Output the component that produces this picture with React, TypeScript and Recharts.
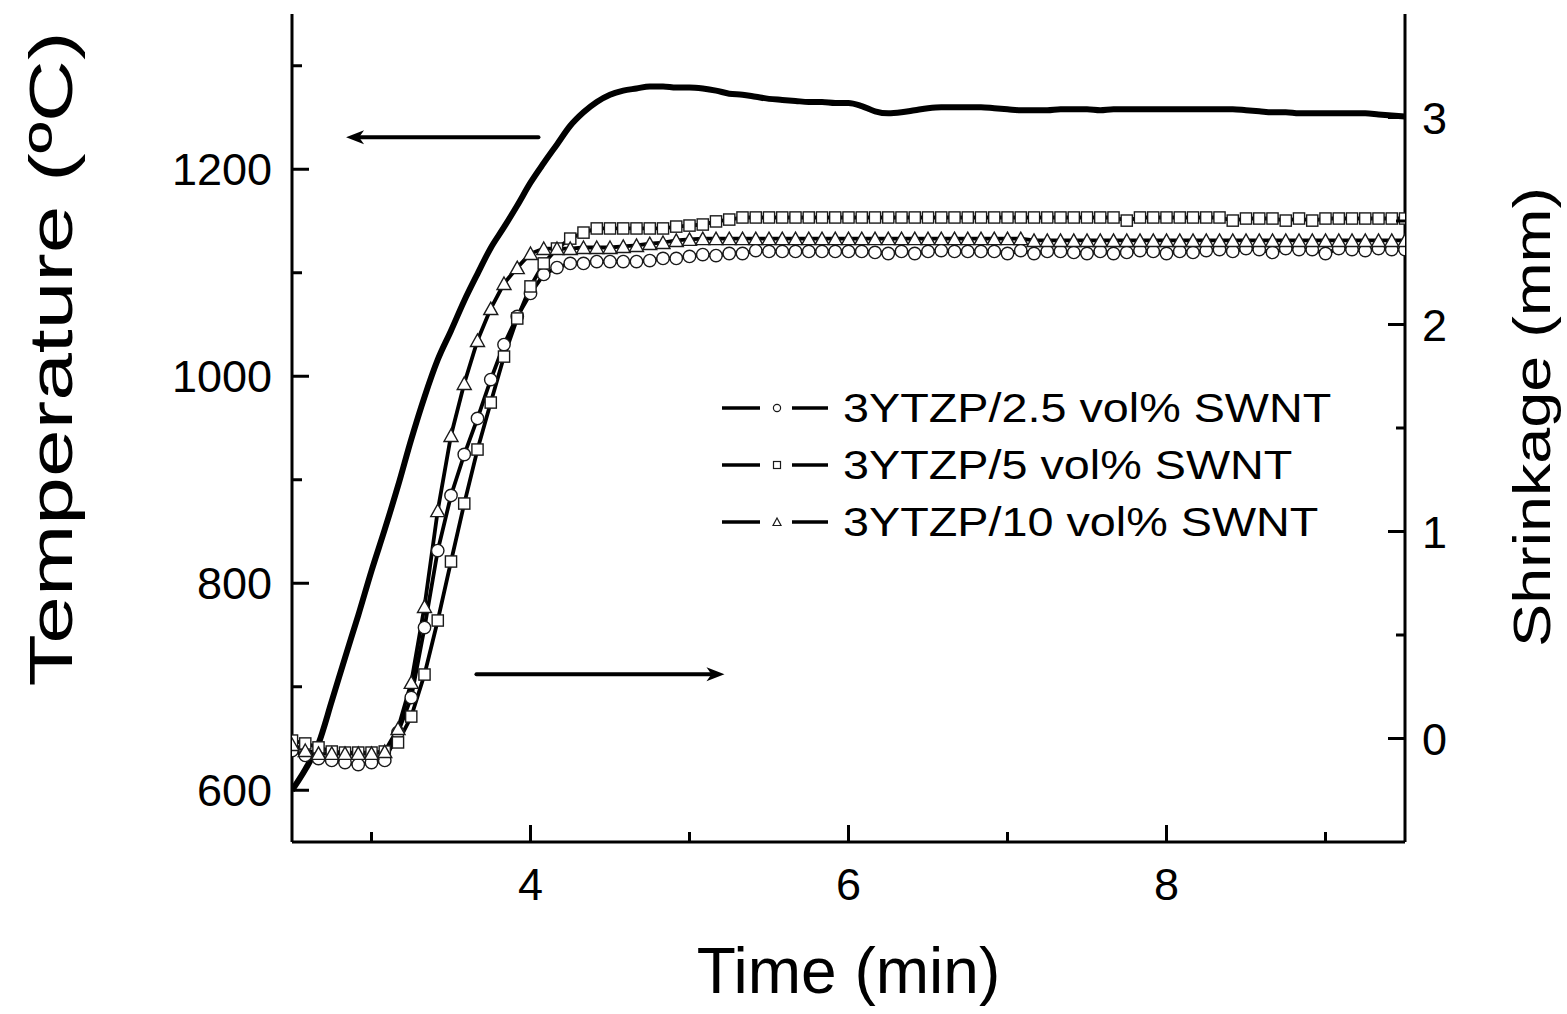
import React from "react"
import { ComposedChart, Line, XAxis, YAxis, Legend, ReferenceLine } from "recharts"

// sampling every 5 s, from 2.5 min to 9.5 min
const timeSec = [
  150, 155, 160, 165, 170, 175, 180, 185, 190, 195, 200, 205, 210, 215, 220, 225, 230, 235, 240, 245,
  250, 255, 260, 265, 270, 275, 280, 285, 290, 295, 300, 305, 310, 315, 320, 325, 330, 335, 340, 345,
  350, 355, 360, 365, 370, 375, 380, 385, 390, 395, 400, 405, 410, 415, 420, 425, 430, 435, 440, 445,
  450, 455, 460, 465, 470, 475, 480, 485, 490, 495, 500, 505, 510, 515, 520, 525, 530, 535, 540, 545,
  550, 555, 560, 565, 570,
]

// temperature, ºC (left axis)
const temperature = [
  600, 620, 645, 686, 728, 769, 812, 852, 894, 939, 980, 1016, 1044, 1073, 1099, 1124, 1144, 1165, 1187, 1206,
  1224, 1242, 1255, 1265, 1272, 1276, 1278, 1280, 1280, 1279, 1279, 1278, 1276, 1273, 1272, 1270, 1268, 1267, 1266, 1265,
  1265, 1264, 1264, 1261, 1256, 1254, 1255, 1257, 1259, 1260, 1260, 1260, 1260, 1259, 1258, 1257, 1257, 1257, 1258, 1258,
  1258, 1257, 1258, 1258, 1258, 1258, 1258, 1258, 1258, 1258, 1258, 1258, 1257, 1256, 1255, 1255, 1254, 1254, 1254, 1254,
  1254, 1254, 1253, 1252, 1251,
]

// shrinkage, mm (right axis)
const swnt25 = [
  -0.058, -0.082, -0.097, -0.106, -0.116, -0.126, -0.116, -0.106, 0.029, 0.198, 0.536, 0.908, 1.174, 1.372, 1.546, 1.734, 1.903, 2.039, 2.15, 2.242,
  2.275, 2.295, 2.295, 2.304, 2.304, 2.304, 2.304, 2.309, 2.319, 2.319, 2.329, 2.338, 2.333, 2.343, 2.343, 2.357, 2.353, 2.353, 2.353, 2.353,
  2.353, 2.353, 2.353, 2.353, 2.348, 2.343, 2.353, 2.343, 2.353, 2.357, 2.353, 2.353, 2.353, 2.353, 2.343, 2.357, 2.343, 2.353, 2.353, 2.348,
  2.343, 2.353, 2.343, 2.348, 2.357, 2.353, 2.343, 2.353, 2.348, 2.357, 2.362, 2.353, 2.367, 2.362, 2.348, 2.367, 2.362, 2.362, 2.343, 2.367,
  2.362, 2.357, 2.367, 2.362, 2.362,
]

const swnt5 = [
  -0.01, -0.024, -0.043, -0.063, -0.068, -0.068, -0.068, -0.063, -0.019, 0.106, 0.309, 0.57, 0.855, 1.135, 1.396, 1.623, 1.845, 2.029, 2.184, 2.295,
  2.367, 2.415, 2.444, 2.464, 2.464, 2.464, 2.464, 2.464, 2.464, 2.473, 2.478, 2.483, 2.498, 2.507, 2.517, 2.517, 2.517, 2.517, 2.517, 2.517,
  2.517, 2.517, 2.517, 2.517, 2.517, 2.517, 2.517, 2.517, 2.517, 2.517, 2.517, 2.517, 2.517, 2.517, 2.517, 2.517, 2.517, 2.517, 2.517, 2.517,
  2.517, 2.517, 2.517, 2.502, 2.517, 2.517, 2.517, 2.517, 2.517, 2.517, 2.517, 2.502, 2.512, 2.512, 2.512, 2.502, 2.512, 2.502, 2.512, 2.512,
  2.512, 2.512, 2.512, 2.512, 2.512,
]

const swnt10 = [
  -0.029, -0.058, -0.072, -0.072, -0.072, -0.072, -0.072, -0.063, 0.048, 0.271, 0.638, 1.101, 1.464, 1.715, 1.923, 2.077, 2.198, 2.275, 2.343, 2.367,
  2.367, 2.367, 2.372, 2.372, 2.372, 2.377, 2.382, 2.391, 2.396, 2.406, 2.411, 2.415, 2.415, 2.415, 2.415, 2.415, 2.415, 2.415, 2.415, 2.415,
  2.415, 2.415, 2.415, 2.415, 2.415, 2.415, 2.415, 2.415, 2.415, 2.415, 2.415, 2.415, 2.415, 2.415, 2.415, 2.415, 2.406, 2.406, 2.406, 2.406,
  2.406, 2.406, 2.406, 2.406, 2.406, 2.406, 2.406, 2.406, 2.406, 2.406, 2.406, 2.406, 2.406, 2.406, 2.406, 2.406, 2.406, 2.406, 2.406, 2.406,
  2.406, 2.406, 2.406, 2.406, 2.406,
]

const seriesNames = ["3YTZP/2.5 vol% SWNT", "3YTZP/5 vol% SWNT", "3YTZP/10 vol% SWNT"]

const leftTicks = [600, 700, 800, 900, 1000, 1100, 1200, 1300]
const leftLabels = [600, 800, 1000, 1200]
const rightTicks = [0, 0.5, 1, 1.5, 2, 2.5, 3]
const rightLabels = [0, 1, 2, 3]
const timeTicks = [3, 4, 5, 6, 7, 8, 9]
const timeLabels = [4, 6, 8]

// arrows: [start min, end min, temperature level]
const arrowToTemp = [4.05, 2.84, 1231]
const arrowToShrink = [3.66, 5.22, 712]

const data = timeSec.map((s, i) => ({
  t: s / 60,
  temp: temperature[i],
  a: swnt25[i],
  b: swnt5[i],
  c: swnt10[i],
}))

const FONT = "'Liberation Sans', Arial, sans-serif"
const INK = "#000"

const CircleDot = (p: any) =>
  p.cx == null ? <g key={p.index} /> : (
    <circle key={p.index} cx={p.cx} cy={p.cy} r={6.2} fill="#fff" stroke="#1a1a1a" strokeWidth={1.4} />
  )

const SquareDot = (p: any) =>
  p.cx == null ? <g key={p.index} /> : (
    <rect key={p.index} x={p.cx - 5.6} y={p.cy - 5.6} width={11.2} height={11.2} fill="#fff" stroke="#1a1a1a" strokeWidth={1.4} />
  )

const TriangleDot = (p: any) =>
  p.cx == null ? <g key={p.index} /> : (
    <polygon
      key={p.index}
      points={`${p.cx},${p.cy - 6.5} ${p.cx + 7},${p.cy + 6} ${p.cx - 7},${p.cy + 6}`}
      fill="#fff"
      stroke="#1a1a1a"
      strokeWidth={1.4}
    />
  )

const LeftTick = ({ x, y, payload }: any) => {
  const major = leftLabels.includes(payload.value)
  return (
    <g>
      <line x1={x} x2={x + (major ? 17 : 10)} y1={y} y2={y} stroke={INK} strokeWidth={3} />
      {major && (
        <text x={x - 20} y={y} dy="0.36em" textAnchor="end" fontSize={45} fontFamily={FONT} fill={INK}>
          {payload.value}
        </text>
      )}
    </g>
  )
}

const RightTick = ({ x, y, payload }: any) => {
  const major = rightLabels.includes(payload.value)
  return (
    <g>
      <line x1={x} x2={x - (major ? 17 : 9)} y1={y} y2={y} stroke={INK} strokeWidth={3} />
      {major && (
        <text x={x + 17} y={y} dy="0.36em" textAnchor="start" fontSize={45} fontFamily={FONT} fill={INK}>
          {payload.value}
        </text>
      )}
    </g>
  )
}

const BottomTick = ({ x, y, payload }: any) => {
  const major = timeLabels.includes(payload.value)
  return (
    <g>
      <line x1={x} x2={x} y1={y} y2={y - (major ? 17 : 10)} stroke={INK} strokeWidth={3} />
      {major && (
        <text x={x} y={y + 58} textAnchor="middle" fontSize={45} fontFamily={FONT} fill={INK}>
          {payload.value}
        </text>
      )}
    </g>
  )
}

const Arrow = (p: any) => {
  const { x1, y1, x2, y2 } = p
  const len = Math.hypot(x2 - x1, y2 - y1) || 1
  const ux = (x2 - x1) / len
  const uy = (y2 - y1) / len
  const hl = 18
  const hw = 7
  const bx = x2 - ux * hl
  const by = y2 - uy * hl
  return (
    <g>
      <line x1={x1} y1={y1} x2={bx + ux * 4} y2={by + uy * 4} stroke={INK} strokeWidth={4} strokeLinecap="round" />
      <polygon
        points={`${x2},${y2} ${bx - uy * hw},${by + ux * hw} ${bx + ux * 5},${by + uy * 5} ${bx + uy * hw},${by - ux * hw}`}
        fill={INK}
      />
    </g>
  )
}

const legendDots = [
  <circle cx={55} cy={28} r={3.6} fill="#fff" stroke="#1a1a1a" strokeWidth={1.2} />,
  <rect x={51.5} y={24.5} width={7} height={7} fill="#fff" stroke="#1a1a1a" strokeWidth={1.2} />,
  <polygon points="55,24 59,31.5 51,31.5" fill="#fff" stroke="#1a1a1a" strokeWidth={1.2} />,
]

const LegendBox = () => (
  <div style={{ fontFamily: FONT }}>
    {seriesNames.map((name, i) => (
      <div key={name} style={{ display: "flex", alignItems: "center", height: 57 }}>
        <svg width={121} height={57} style={{ flex: "none" }}>
          <line x1={0} x2={38} y1={28} y2={28} stroke={INK} strokeWidth={3.5} />
          {legendDots[i]}
          <line x1={70} x2={106} y1={28} y2={28} stroke={INK} strokeWidth={3.5} />
        </svg>
        <span
          style={{
            fontSize: 41,
            color: INK,
            whiteSpace: "nowrap",
            lineHeight: 1,
            display: "inline-block",
            transform: "scaleX(1.14)",
            transformOrigin: "left center",
          }}
        >
          {name}
        </span>
      </div>
    ))}
  </div>
)

const axisLine = { stroke: INK, strokeWidth: 3 }

export default function App() {
  return (
    <div style={{ position: "absolute", left: 0, top: 0, width: 1567, height: 1014, background: "#fff" }}>
      <ComposedChart width={1567} height={1014} data={data} margin={{ top: 14, right: 62, bottom: 72, left: 92 }}>
        <XAxis
          dataKey="t"
          type="number"
          domain={[2.5, 9.5]}
          ticks={timeTicks}
          interval={0}
          allowDataOverflow
          height={100}
          tickSize={0}
          tickMargin={0}
          tickLine={false}
          axisLine={axisLine}
          tick={<BottomTick />}
          label={({ viewBox }: any) => (
            <text
              x={viewBox.x + viewBox.width / 2}
              y={viewBox.y + 151}
              textAnchor="middle"
              fontSize={64}
              fontFamily={FONT}
              fill={INK}
            >
              Time (min)
            </text>
          )}
        />
        <XAxis
          xAxisId="top"
          orientation="top"
          dataKey="t"
          type="number"
          domain={[2.5, 9.5]}
          height={0}
          tick={false}
          tickLine={false}
          axisLine={axisLine}
        />
        <YAxis
          yAxisId="left"
          type="number"
          domain={[550, 1350]}
          ticks={leftTicks}
          interval={0}
          allowDataOverflow
          width={200}
          tickSize={0}
          tickMargin={0}
          tickLine={false}
          axisLine={axisLine}
          tick={<LeftTick />}
          label={({ viewBox }: any) => {
            const cx = viewBox.x - 20
            const cy = viewBox.y + 345
            return (
              <text
                x={cx}
                y={cy}
                transform={`rotate(-90, ${cx}, ${cy})`}
                textAnchor="middle"
                fontSize={61}
                textLength={655}
                lengthAdjust="spacingAndGlyphs"
                fontFamily={FONT}
                fill={INK}
              >
                Temperature (ºC)
              </text>
            )
          }}
        />
        <YAxis
          yAxisId="right"
          orientation="right"
          type="number"
          domain={[-0.5, 3.5]}
          ticks={rightTicks}
          interval={0}
          allowDataOverflow
          width={100}
          tickSize={0}
          tickMargin={0}
          tickLine={false}
          axisLine={axisLine}
          tick={<RightTick />}
          label={({ viewBox }: any) => {
            const cx = viewBox.x + 145
            const cy = viewBox.y + 403
            return (
              <text
                x={cx}
                y={cy}
                transform={`rotate(-90, ${cx}, ${cy})`}
                textAnchor="middle"
                fontSize={52}
                textLength={460}
                lengthAdjust="spacingAndGlyphs"
                fontFamily={FONT}
                fill={INK}
              >
                Shrinkage (mm)
              </text>
            )
          }}
        />
        <Legend
          layout="vertical"
          align="center"
          verticalAlign="middle"
          wrapperStyle={{ left: 722, top: 380, width: "auto", height: "auto" }}
          content={<LegendBox />}
        />
        <ReferenceLine
          yAxisId="left"
          segment={[
            { x: arrowToTemp[0], y: arrowToTemp[2] },
            { x: arrowToTemp[1], y: arrowToTemp[2] },
          ]}
          shape={<Arrow />}
        />
        <ReferenceLine
          yAxisId="left"
          segment={[
            { x: arrowToShrink[0], y: arrowToShrink[2] },
            { x: arrowToShrink[1], y: arrowToShrink[2] },
          ]}
          shape={<Arrow />}
        />
        <Line
          yAxisId="right"
          dataKey="a"
          name={seriesNames[0]}
          type="linear"
          stroke={INK}
          strokeWidth={3.8}
          dot={CircleDot}
          activeDot={false}
          isAnimationActive={false}
        />
        <Line
          yAxisId="right"
          dataKey="b"
          name={seriesNames[1]}
          type="linear"
          stroke={INK}
          strokeWidth={3.8}
          dot={SquareDot}
          activeDot={false}
          isAnimationActive={false}
        />
        <Line
          yAxisId="right"
          dataKey="c"
          name={seriesNames[2]}
          type="linear"
          stroke={INK}
          strokeWidth={3.8}
          dot={TriangleDot}
          activeDot={false}
          isAnimationActive={false}
        />
        <Line
          yAxisId="left"
          dataKey="temp"
          type="monotone"
          stroke={INK}
          strokeWidth={6}
          dot={false}
          activeDot={false}
          legendType="none"
          isAnimationActive={false}
        />
      </ComposedChart>
    </div>
  )
}
